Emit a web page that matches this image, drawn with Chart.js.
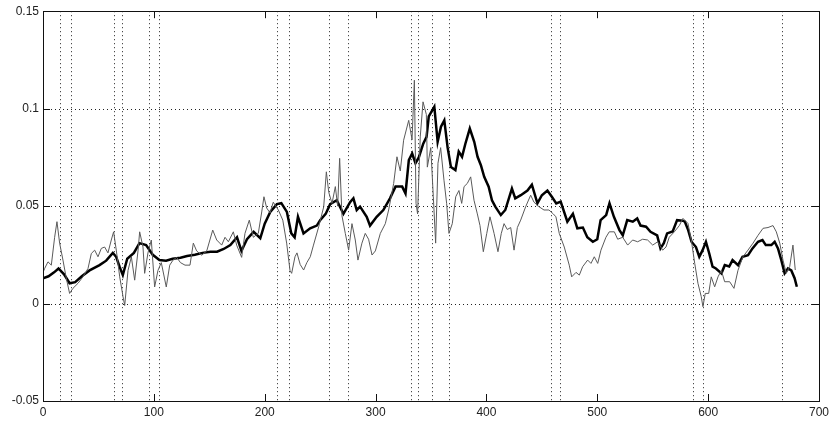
<!DOCTYPE html>
<html>
<head>
<meta charset="utf-8">
<script src="https://cdn.jsdelivr.net/npm/chart.js@4"></script>
<style>
  html, body { margin: 0; padding: 0; background: #fff; }
  canvas { display: block; }
</style>
</head>
<body>
<canvas id="chart" width="834" height="427"></canvas>
<script>
// axis ticks
const xTicks = [0, 100, 200, 300, 400, 500, 600, 700];
const yTicks = [-0.05, 0, 0.05, 0.1, 0.15];
const yTickLabels = ['-0.05', '0', '0.05', '0.1', '0.15'];

// vertical dotted markers
const markerX = [15, 25, 64, 71, 96, 105, 211, 222, 258, 275, 332, 338, 351, 366, 458, 466, 586, 595, 667];

// thick black series
const thickX = [0, 5, 10, 14, 19, 24, 29, 35, 42, 51, 57, 63, 66, 69, 72, 76, 82, 87, 93, 99,
  105, 111, 117, 124, 130, 137, 144, 151, 157, 163, 169, 175, 179, 184, 190, 196, 200, 205, 211, 215,
  220, 224, 227, 230, 235, 241, 247, 250, 255, 259, 265, 271, 277, 280, 283, 286, 292, 295, 301, 307,
  313, 318, 324, 327, 330, 333, 336, 339, 343, 346, 348, 353, 356, 359, 362, 365, 368, 372, 375, 378,
  381, 385, 389, 392, 395, 398, 402, 405, 408, 413, 417, 423, 426, 431, 437, 441, 446, 450, 455, 459,
  463, 467, 473, 478, 482, 487, 491, 496, 500, 503, 508, 511, 515, 520, 523, 527, 532, 536, 539, 544,
  548, 554, 557, 560, 563, 568, 572, 577, 579, 582, 585, 589, 592, 595, 598, 601, 604, 607, 612, 615,
  619, 622, 627, 631, 636, 640, 645, 649, 652, 657, 660, 663, 666, 669, 672, 675, 678, 680];
const thickY = [0.013, 0.014, 0.016, 0.018, 0.015, 0.0104, 0.011, 0.014, 0.017, 0.0197, 0.022, 0.026, 0.024, 0.019, 0.0146, 0.023, 0.026, 0.031, 0.030, 0.025,
  0.0223, 0.022, 0.023, 0.0235, 0.0244, 0.025, 0.026, 0.0266, 0.0266, 0.028, 0.030, 0.034, 0.027, 0.033, 0.0368, 0.0335, 0.041, 0.047, 0.051, 0.0515,
  0.047, 0.036, 0.034, 0.0445, 0.036, 0.0386, 0.040, 0.0428, 0.046, 0.051, 0.053, 0.046, 0.052, 0.054, 0.048, 0.0497, 0.0445, 0.040, 0.0445, 0.048,
  0.054, 0.060, 0.060, 0.0565, 0.0736, 0.077, 0.072, 0.075, 0.082, 0.0855, 0.096, 0.101, 0.083, 0.0907, 0.094, 0.080, 0.070, 0.0685, 0.078, 0.0753,
  0.082, 0.0898, 0.083, 0.0753, 0.071, 0.065, 0.060, 0.053, 0.0497, 0.0454, 0.048, 0.059, 0.054, 0.0556, 0.058, 0.061, 0.0514, 0.0556, 0.058, 0.0548,
  0.0514, 0.0523, 0.042, 0.046, 0.0386, 0.039, 0.034, 0.0317, 0.033, 0.0428, 0.0454, 0.0514, 0.0445, 0.0377, 0.035, 0.0428, 0.042, 0.0437, 0.040, 0.0394,
  0.0368, 0.035, 0.0283, 0.031, 0.036, 0.037, 0.0428, 0.0425, 0.042, 0.0377, 0.0317, 0.029, 0.024, 0.0274, 0.0317, 0.0257, 0.0189, 0.018, 0.0155, 0.0197,
  0.019, 0.0223, 0.0197, 0.024, 0.0248, 0.0283, 0.0317, 0.0326, 0.030, 0.030, 0.0317, 0.0283, 0.0223, 0.0155, 0.018, 0.017, 0.013, 0.0086];

// thin grey series
const thinX = [0, 1.5, 4.5, 7.5, 10.5, 12.6, 15, 18, 21, 24, 27, 31.6, 36, 40.6, 43.6, 46.6, 49.6, 52.6, 55.6, 58.6,
  61.6, 63.7, 66.2, 69.2, 72.2, 73.7, 76.7, 79.7, 82.7, 85.7, 87.2, 90.2, 91.7, 94.7, 97.7, 100.7, 103.7, 106.7, 111.2, 114.3,
  117.3, 120.6, 124, 128.1, 132.6, 135.6, 138.6, 143.2, 147.7, 153.1, 156.7, 161.2, 164.2, 167.2, 171.7, 174.7, 179.2, 182.2, 186.1, 189.7,
  194.2, 197.3, 199.3, 201.8, 204.8, 207.7, 212.3, 216.3, 219.8, 222.8, 224.3, 227.3, 229.1, 232, 235.1, 238, 241.1, 244, 248.7, 253.2,
  255.6, 257.8, 260.7, 263.7, 265.8, 267.6, 269.7, 272.7, 275.7, 278.7, 281.7, 284.1, 287.7, 290.7, 293.7, 296.8, 299.8, 304.3, 308.8, 311.8,
  316.3, 319.3, 322.3, 325.3, 329.9, 332.9, 335, 336.5, 337.9, 340.3, 342.8, 345.8, 346.7, 349.8, 352.1, 354.2, 356.3, 358.7, 361.7, 364.1,
  366.2, 369.2, 372.3, 375.2, 377.7, 379.8, 382.7, 385.8, 388.8, 391.8, 394.2, 397.2, 400.3, 403.2, 406.9, 410.4, 413.4, 415.9, 418.8, 421.9,
  424.9, 427.9, 430.9, 435.4, 439.9, 442.9, 447.4, 451.9, 456.4, 460.3, 462.7, 465.7, 470.2, 474.7, 476.9, 480.8, 483.8, 486.8, 491.3, 494.3,
  497.3, 500.4, 503.3, 507.8, 510.8, 515.4, 518.4, 522.9, 527.4, 531.9, 536.4, 540.9, 545.4, 550, 554.5, 559, 562, 564.9, 569.5, 574,
  577.3, 581.8, 584.8, 587.9, 590.8, 593.8, 595.3, 597.4, 600.5, 602.8, 605.9, 608.9, 611.9, 614.9, 619.4, 623.3, 626.9, 631.4, 635.9, 640.5,
  645, 649.5, 654, 658.5, 661.5, 664.6, 667.5, 670.5, 673.6, 676.5, 678.6];
const thinY = [0.016, 0.018, 0.0214, 0.0197, 0.034, 0.042, 0.031, 0.0223, 0.013, 0.0052, 0.0078, 0.0104, 0.0137, 0.018, 0.0257, 0.0274, 0.024, 0.0283, 0.029, 0.026,
  0.0326, 0.0368, 0.027, 0.0137, 0.0035, -0.001, 0.017, 0.024, 0.012, 0.027, 0.0368, 0.029, 0.0155, 0.026, 0.0326, 0.0085, 0.017, 0.021, 0.0085, 0.0197,
  0.0223, 0.0237, 0.021, 0.0197, 0.0197, 0.031, 0.027, 0.0248, 0.027, 0.0377, 0.0326, 0.030, 0.034, 0.0317, 0.0368, 0.030, 0.0237, 0.036, 0.0428, 0.034,
  0.036, 0.047, 0.0548, 0.049, 0.0465, 0.052, 0.048, 0.0428, 0.031, 0.017, 0.0155, 0.024, 0.026, 0.020, 0.0172, 0.021, 0.024, 0.030, 0.0394, 0.0496,
  0.0676, 0.057, 0.0514, 0.060, 0.050, 0.0745, 0.045, 0.036, 0.0274, 0.041, 0.0326, 0.0223, 0.031, 0.036, 0.033, 0.0249, 0.027, 0.036, 0.041, 0.048,
  0.0616, 0.0753, 0.068, 0.0838, 0.094, 0.084, 0.1146, 0.0514, 0.046, 0.0855, 0.1035, 0.097, 0.070, 0.080, 0.0548, 0.031, 0.072, 0.080, 0.0633, 0.0514,
  0.036, 0.041, 0.0548, 0.058, 0.0514, 0.060, 0.0616, 0.065, 0.053, 0.046, 0.040, 0.0266, 0.036, 0.0445, 0.036, 0.0266, 0.036, 0.041, 0.038, 0.039,
  0.0274, 0.039, 0.0428, 0.0497, 0.0556, 0.052, 0.0497, 0.048, 0.048, 0.046, 0.0445, 0.036, 0.029, 0.0197, 0.0137, 0.016, 0.0146, 0.0189, 0.0223, 0.0206,
  0.024, 0.0206, 0.0274, 0.034, 0.0368, 0.0368, 0.033, 0.034, 0.030, 0.0326, 0.0317, 0.033, 0.0326, 0.030, 0.0317, 0.0274, 0.029, 0.034, 0.0368, 0.040,
  0.0437, 0.0411, 0.0326, 0.0206, 0.0104, 0.0035, -0.0016, 0.0052, 0.0052, 0.0137, 0.0086, 0.0137, 0.017, 0.0112, 0.0112, 0.0078, 0.017, 0.024, 0.0274, 0.031,
  0.035, 0.0386, 0.039, 0.040, 0.0368, 0.031, 0.0223, 0.0155, 0.019, 0.030, 0.0172];

const toPoints = (xs, ys) => xs.map((x, i) => ({ x: x, y: ys[i] }));

// box, dotted grid, markers and inner tick marks in MATLAB style
const matlabFrame = {
    id: 'matlabFrame',
    beforeDatasetsDraw(chart){
        const { ctx, chartArea: a, scales: { x, y } } = chart;
        ctx.save();
        ctx.lineWidth = 1;
        ctx.strokeStyle = '#222';
        ctx.setLineDash([1, 3]);
        yTicks.forEach(v => {
            if(v <= yTicks[0] || v >= yTicks[yTicks.length - 1]) return;
            const py = Math.round(y.getPixelForValue(v)) + 0.5;
            ctx.beginPath();
            ctx.moveTo(a.left, py);
            ctx.lineTo(a.right, py);
            ctx.stroke();
        });
        markerX.forEach(v => {
            const px = Math.round(x.getPixelForValue(v)) + 0.5;
            ctx.beginPath();
            ctx.moveTo(px, a.top);
            ctx.lineTo(px, a.bottom);
            ctx.stroke();
        });
        ctx.restore();
    },
    afterDraw(chart){
        const { ctx, chartArea: a, scales: { x, y } } = chart;
        const len = 7;
        ctx.save();
        ctx.strokeStyle = '#111';
        ctx.lineWidth = 1;
        ctx.strokeRect(Math.round(a.left) + 0.5, Math.round(a.top) + 0.5,
            Math.round(a.right - a.left), Math.round(a.bottom - a.top));
        ctx.beginPath();
        xTicks.forEach(v => {
            const px = Math.round(x.getPixelForValue(v)) + 0.5;
            ctx.moveTo(px, a.bottom);
            ctx.lineTo(px, a.bottom - len);
            ctx.moveTo(px, a.top);
            ctx.lineTo(px, a.top + len);
        });
        yTicks.forEach(v => {
            const py = Math.round(y.getPixelForValue(v)) + 0.5;
            ctx.moveTo(a.left, py);
            ctx.lineTo(a.left + len, py);
            ctx.moveTo(a.right, py);
            ctx.lineTo(a.right - len, py);
        });
        ctx.stroke();
        ctx.restore();
    }
};

new Chart(document.getElementById('chart'), {
    type: 'line',
    data: {
        datasets: [
            {
                label: 'thin',
                data: toPoints(thinX, thinY),
                borderColor: '#5a5a5a',
                borderWidth: 1,
                pointRadius: 0,
                tension: 0,
                order: 0
            },
            {
                label: 'thick',
                data: toPoints(thickX, thickY),
                borderColor: '#000',
                borderWidth: 2.5,
                pointRadius: 0,
                tension: 0,
                order: 1
            }
        ]
    },
    options: {
        responsive: false,
        animation: false,
        layout: { padding: { top: 11, right: 15, left: 0, bottom: 0 } },
        plugins: {
            legend: { display: false },
            tooltip: { enabled: false }
        },
        scales: {
            x: {
                type: 'linear',
                min: 0,
                max: 700,
                afterBuildTicks: s => { s.ticks = xTicks.map(v => ({ value: v })); },
                afterFit: s => { s.height = 26; },
                grid: { display: false, drawTicks: false },
                border: { display: false },
                ticks: {
                    padding: 4,
                    maxRotation: 0,
                    color: '#222',
                    font: { family: 'Liberation Sans, Arial, sans-serif', size: 12 },
                    callback: v => String(v)
                }
            },
            y: {
                type: 'linear',
                min: -0.05,
                max: 0.15,
                afterBuildTicks: s => { s.ticks = yTicks.map(v => ({ value: v })); },
                afterFit: s => { s.width = 43; },
                grid: { display: false, drawTicks: false },
                border: { display: false },
                ticks: {
                    padding: 4,
                    color: '#222',
                    font: { family: 'Liberation Sans, Arial, sans-serif', size: 12 },
                    callback: (v, i) => yTickLabels[i]
                }
            }
        }
    },
    plugins: [matlabFrame]
});
</script>
</body>
</html>
